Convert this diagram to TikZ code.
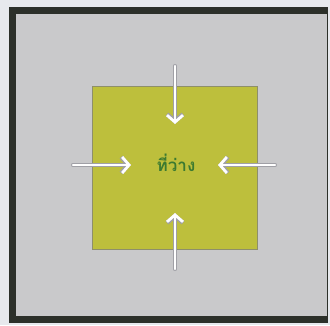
\documentclass[tikz,border=0pt]{standalone}
\usepackage{fontspec}
\usepackage{tikz}
\usetikzlibrary{arrows.meta,positioning}
\newfontfamily\thaifont[Script=Thai]{Loma}
\definecolor{PlanPaper}{HTML}{E7E9ED}
\definecolor{PlanFrame}{HTML}{2C302A}
\definecolor{PlanGray}{HTML}{C9C9CB}
\definecolor{PlanLawn}{HTML}{BDBF3C}
\definecolor{PlanEdge}{HTML}{8E8F6A}
\definecolor{PlanText}{HTML}{3C7A30}
\definecolor{PlanRim}{HTML}{A0A0A6}
\tikzset{
  push rim/.style={PlanRim,line width=4.2pt,line cap=round,
    -{Straight Barb[length=7pt,width=16pt]}},
  push arrow/.style={white,line width=2.8pt,line cap=round,
    -{Straight Barb[length=7pt,width=16pt]}}
}

\begin{document}
\begin{tikzpicture}[x=1pt,y=-1pt]
        \useasboundingbox (0,0) rectangle (330,325);
        \fill[PlanPaper] (0,0) rectangle (330,325);

        % frame
        \fill[PlanFrame] (9,7) rectangle (328,323);
        \fill[PlanGray] (16,14) rectangle (327,316);

        % open space
        \node[draw=PlanEdge,fill=PlanLawn,line width=0.5pt,
          minimum width=165pt,minimum height=163pt,inner sep=0pt]
          (lawn) at (174.5,167.5) {};
        \node[text=PlanText,font=\thaifont\bfseries\fontsize{17}{19}\selectfont]
          (space) at (176,163) {ที่ว่าง};

        \coordinate (topS) at (175,66);
        \coordinate (topE) at (175,124);
        \coordinate (botS) at (175,269);
        \coordinate (botE) at (175,213);
        \coordinate (lefS) at (73,165);
        \coordinate (lefE) at (131,165);
        \coordinate (rigS) at (275,165);
        \coordinate (rigE) at (218,165);

        \foreach \s/\e in {topS/topE,botS/botE,lefS/lefE,rigS/rigE}{
          \draw[push rim] (\s) -- (\e);
          \draw[push arrow] (\s) -- (\e);
        }
      \end{tikzpicture}
\end{document}
